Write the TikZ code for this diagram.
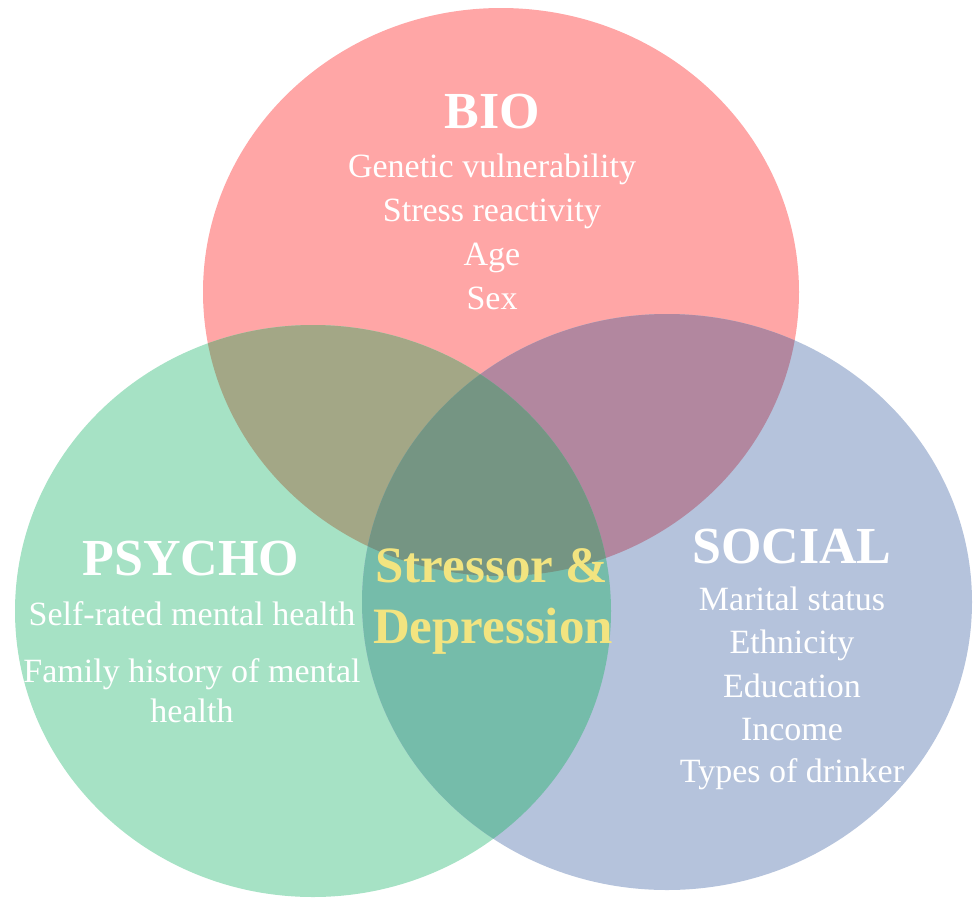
\documentclass[tikz,border=0pt]{standalone}
\usepackage{fontspec}
\setmainfont{Liberation Serif}

\definecolor{bioRed}{HTML}{FFA6A6}
\definecolor{psyGreen}{HTML}{A6E2C5}
\definecolor{socBlue}{HTML}{B5C3DC}
\definecolor{bioPsy}{HTML}{A3A786}
\definecolor{bioSoc}{HTML}{B2879F}
\definecolor{psySoc}{HTML}{75BCAA}
\definecolor{allThree}{HTML}{759583}
\definecolor{stressYellow}{HTML}{F2E480}

\tikzset{
	bioR/.style={x radius=298, y radius=284},
	psyR/.style={x radius=298, y radius=286},
	socR/.style={x radius=305, y radius=288},
	heading/.style={anchor=base, text=white, font=\fontsize{52}{52}\selectfont\bfseries},
	factor/.style={anchor=base, text=white, font=\fontsize{34}{40}\selectfont},
	centre/.style={anchor=base, text=stressYellow, font=\fontsize{51}{51}\selectfont\bfseries}
}

\begin{document}
\begin{tikzpicture}[x=1pt, y=-1pt]
		\useasboundingbox (0,0) rectangle (978,898);

		\coordinate (bio) at (501,292);
		\coordinate (psy) at (313,611);
		\coordinate (soc) at (667,602);

		% the three circles
		\fill[bioRed] (bio) ellipse [bioR];
		\fill[psyGreen] (psy) ellipse [psyR];
		\fill[socBlue] (soc) ellipse [socR];

		% overlaps
		\begin{scope}
			\clip (bio) ellipse [bioR];
			\fill[bioPsy] (psy) ellipse [psyR];
			\fill[bioSoc] (soc) ellipse [socR];
		\end{scope}
		\begin{scope}
			\clip (psy) ellipse [psyR];
			\fill[psySoc] (soc) ellipse [socR];
			\clip (soc) ellipse [socR];
			\fill[allThree] (bio) ellipse [bioR];
		\end{scope}

		\node[heading] (bioT) at (492,128) {BIO};
		\node[factor] (bio1) at (492,177) {Genetic vulnerability};
		\node[factor] (bio2) at (492,221) {Stress reactivity};
		\node[factor] (bio3) at (492,265) {Age};
		\node[factor] (bio4) at (492,309) {Sex};

		\node[heading] (psyT) at (191,575) {PSYCHO};
		\node[factor] (psy1) at (192,625) {Self-rated mental health};
		\node[factor] (psy2) at (192,682) {Family history of mental};
		\node[factor] (psy3) at (192,722) {health};

		\node[heading] (socT) at (792,563) {SOCIAL};
		\node[factor] (soc1) at (792,610) {Marital status};
		\node[factor] (soc2) at (792,653) {Ethnicity};
		\node[factor] (soc3) at (792,697) {Education};
		\node[factor] (soc4) at (792,740) {Income};
		\node[factor] (soc5) at (792,782) {Types of drinker};

		\node[centre] (mid1) at (492,582) {Stressor \&};
		\node[centre] (mid2) at (493,643) {Depression};
	\end{tikzpicture}
\end{document}
